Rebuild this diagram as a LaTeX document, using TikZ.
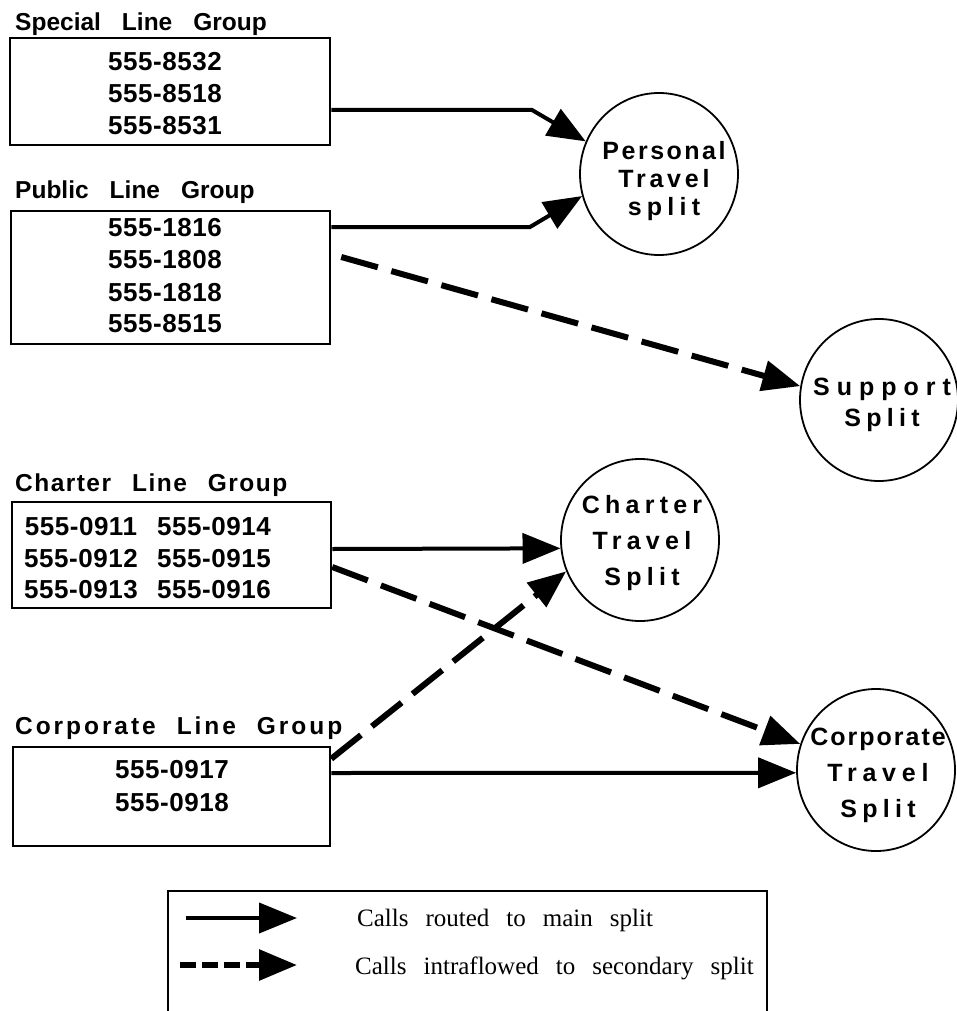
\documentclass[tikz,border=0pt]{standalone}
\usepackage{fontspec}
\setmainfont{Liberation Sans}
\newfontfamily\legendfont{Liberation Serif}
\usetikzlibrary{arrows.meta,shapes.geometric}

\begin{document}
\begin{tikzpicture}[x=1pt,y=-1pt,>={Triangle[length=38pt,width=30pt]},
	grouplabel/.style={anchor=west,inner sep=0pt,font={\fontsize{24.5}{28}\selectfont\bfseries\spaceskip=21pt\relax}},
	groupbox/.style={rectangle,draw,line width=2.5pt,inner sep=0pt},
	number/.style={inner sep=0pt,font={\fontsize{26}{30}\selectfont\bfseries\addfontfeatures{LetterSpace=2}}},
	splitcircle/.style={ellipse,draw,line width=1.8pt,minimum width=158pt,minimum height=162pt,inner sep=0pt},
	splittext/.style={inner sep=0pt,align=center,font={\fontsize{25}{28}\selectfont\bfseries\addfontfeatures{LetterSpace=21}}},
	mainflow/.style={->,line width=4pt},
	intraflow/.style={->,line width=6pt,dash pattern=on 38pt off 14pt},
	legendtext/.style={anchor=west,inner sep=0pt,font={\fontsize{25}{29}\selectfont\legendfont\spaceskip=17pt\relax}}]
	\useasboundingbox (0,0) rectangle (957,1011);
	
	% 线路组
	\node[grouplabel] (lspec) at (15,24) {Special Line Group};
	\node[grouplabel] (lpub) at (15,192) {Public Line Group};
	\node[grouplabel] (lchar) at (15,485) {\addfontfeatures{LetterSpace=6}Charter Line Group};
	\node[grouplabel] (lcorp) at (15,728) {\addfontfeatures{LetterSpace=12}Corporate Line Group};
	
	\node[groupbox,minimum width=320pt,minimum height=107pt] (gspec) at (170,91.5) {};
	\node[groupbox,minimum width=319pt,minimum height=133pt] (gpub) at (170.5,277.5) {};
	\node[groupbox,minimum width=319pt,minimum height=106pt] (gchar) at (171.5,555) {};
	\node[groupbox,minimum width=317pt,minimum height=99pt] (gcorp) at (171.5,796.5) {};
	
	\foreach \i/\y/\num in {1/62/555-8532,2/94/555-8518,3/126/555-8531}{
		\node[number] (nspec\i) at (165,\y) {\num};
	}
	\foreach \i/\y/\num in {1/228/555-1816,2/260/555-1808,3/293/555-1818,4/324/555-8515}{
		\node[number] (npub\i) at (165,\y) {\num};
	}
	\foreach \i/\y/\numa/\numb in {1/527/555-0911/555-0914,2/559/555-0912/555-0915,3/590/555-0913/555-0916}{
		\node[number] (nchar\i) at (81,\y) {\numa};
		\node[number] (ncharb\i) at (214,\y) {\numb};
	}
	\foreach \i/\y/\num in {1/770/555-0917,2/803/555-0918}{
		\node[number] (ncorp\i) at (172,\y) {\num};
	}
	
	% 分组圆
	\foreach \n/\x/\y in {pers/659/174,supp/879/400,chtr/640/540,corp/876/770}{
		\node[splitcircle] (\n) at (\x,\y) {};
	}
	\node[splittext] (perst) at (664,181) {\addfontfeatures{LetterSpace=10}Personal\\{\addfontfeatures{LetterSpace=15}Travel}\\split};
	\node[splittext] (suppt) at (882,405) {\addfontfeatures{LetterSpace=28}Support\\[3pt]Split};
	\node[splittext] (chtrt) at (642,543) {Charter\\[8pt]Travel\\[8pt]Split};
	\node[splittext] (corpt) at (878,775) {{\addfontfeatures{LetterSpace=8}Corporate}\\[8pt]{\addfontfeatures{LetterSpace=23}Travel}\\[8pt]Split};
	
	\coordinate (bend1) at (532,110);
	\coordinate (bend2) at (530,227);
	\draw[mainflow] (gspec.east |- bend1) -- (bend1) -- (pers.156);
	\draw[mainflow] (gpub.east |- bend2) -- (bend2) -- (pers.196);
	\draw[intraflow] ([xshift=10pt,yshift=20.5pt]gpub.east) -- (supp.170);
	\draw[mainflow] ([yshift=6pt]gchar.east) -- (chtr.186);
	\draw[intraflow] ([yshift=-12pt]gchar.east) -- (corp.161);
	\draw[intraflow] ([yshift=-13pt]gcorp.north east) -- (chtr.203);
	\draw[mainflow] ([yshift=23.5pt]gcorp.east) -- (corp.182);
	
	% 图例
	\node[groupbox,minimum width=599pt,minimum height=140pt] (legend) at (467.5,961) {};
	\coordinate (la1) at (186,918);
	\coordinate (la2) at (297,918);
	\coordinate (lb1) at (180,965);
	\coordinate (lb2) at (297,965);
	\draw[mainflow] (la1) -- (la2);
	\draw[->,line width=6pt,dash pattern=on 16pt off 6pt] (lb1) -- (lb2);
	\node[legendtext] (lgmain) at (357,920) {Calls routed to main split};
	\node[legendtext] (lgsec) at (355,968) {Calls intraflowed to secondary split};
\end{tikzpicture}
\end{document}
